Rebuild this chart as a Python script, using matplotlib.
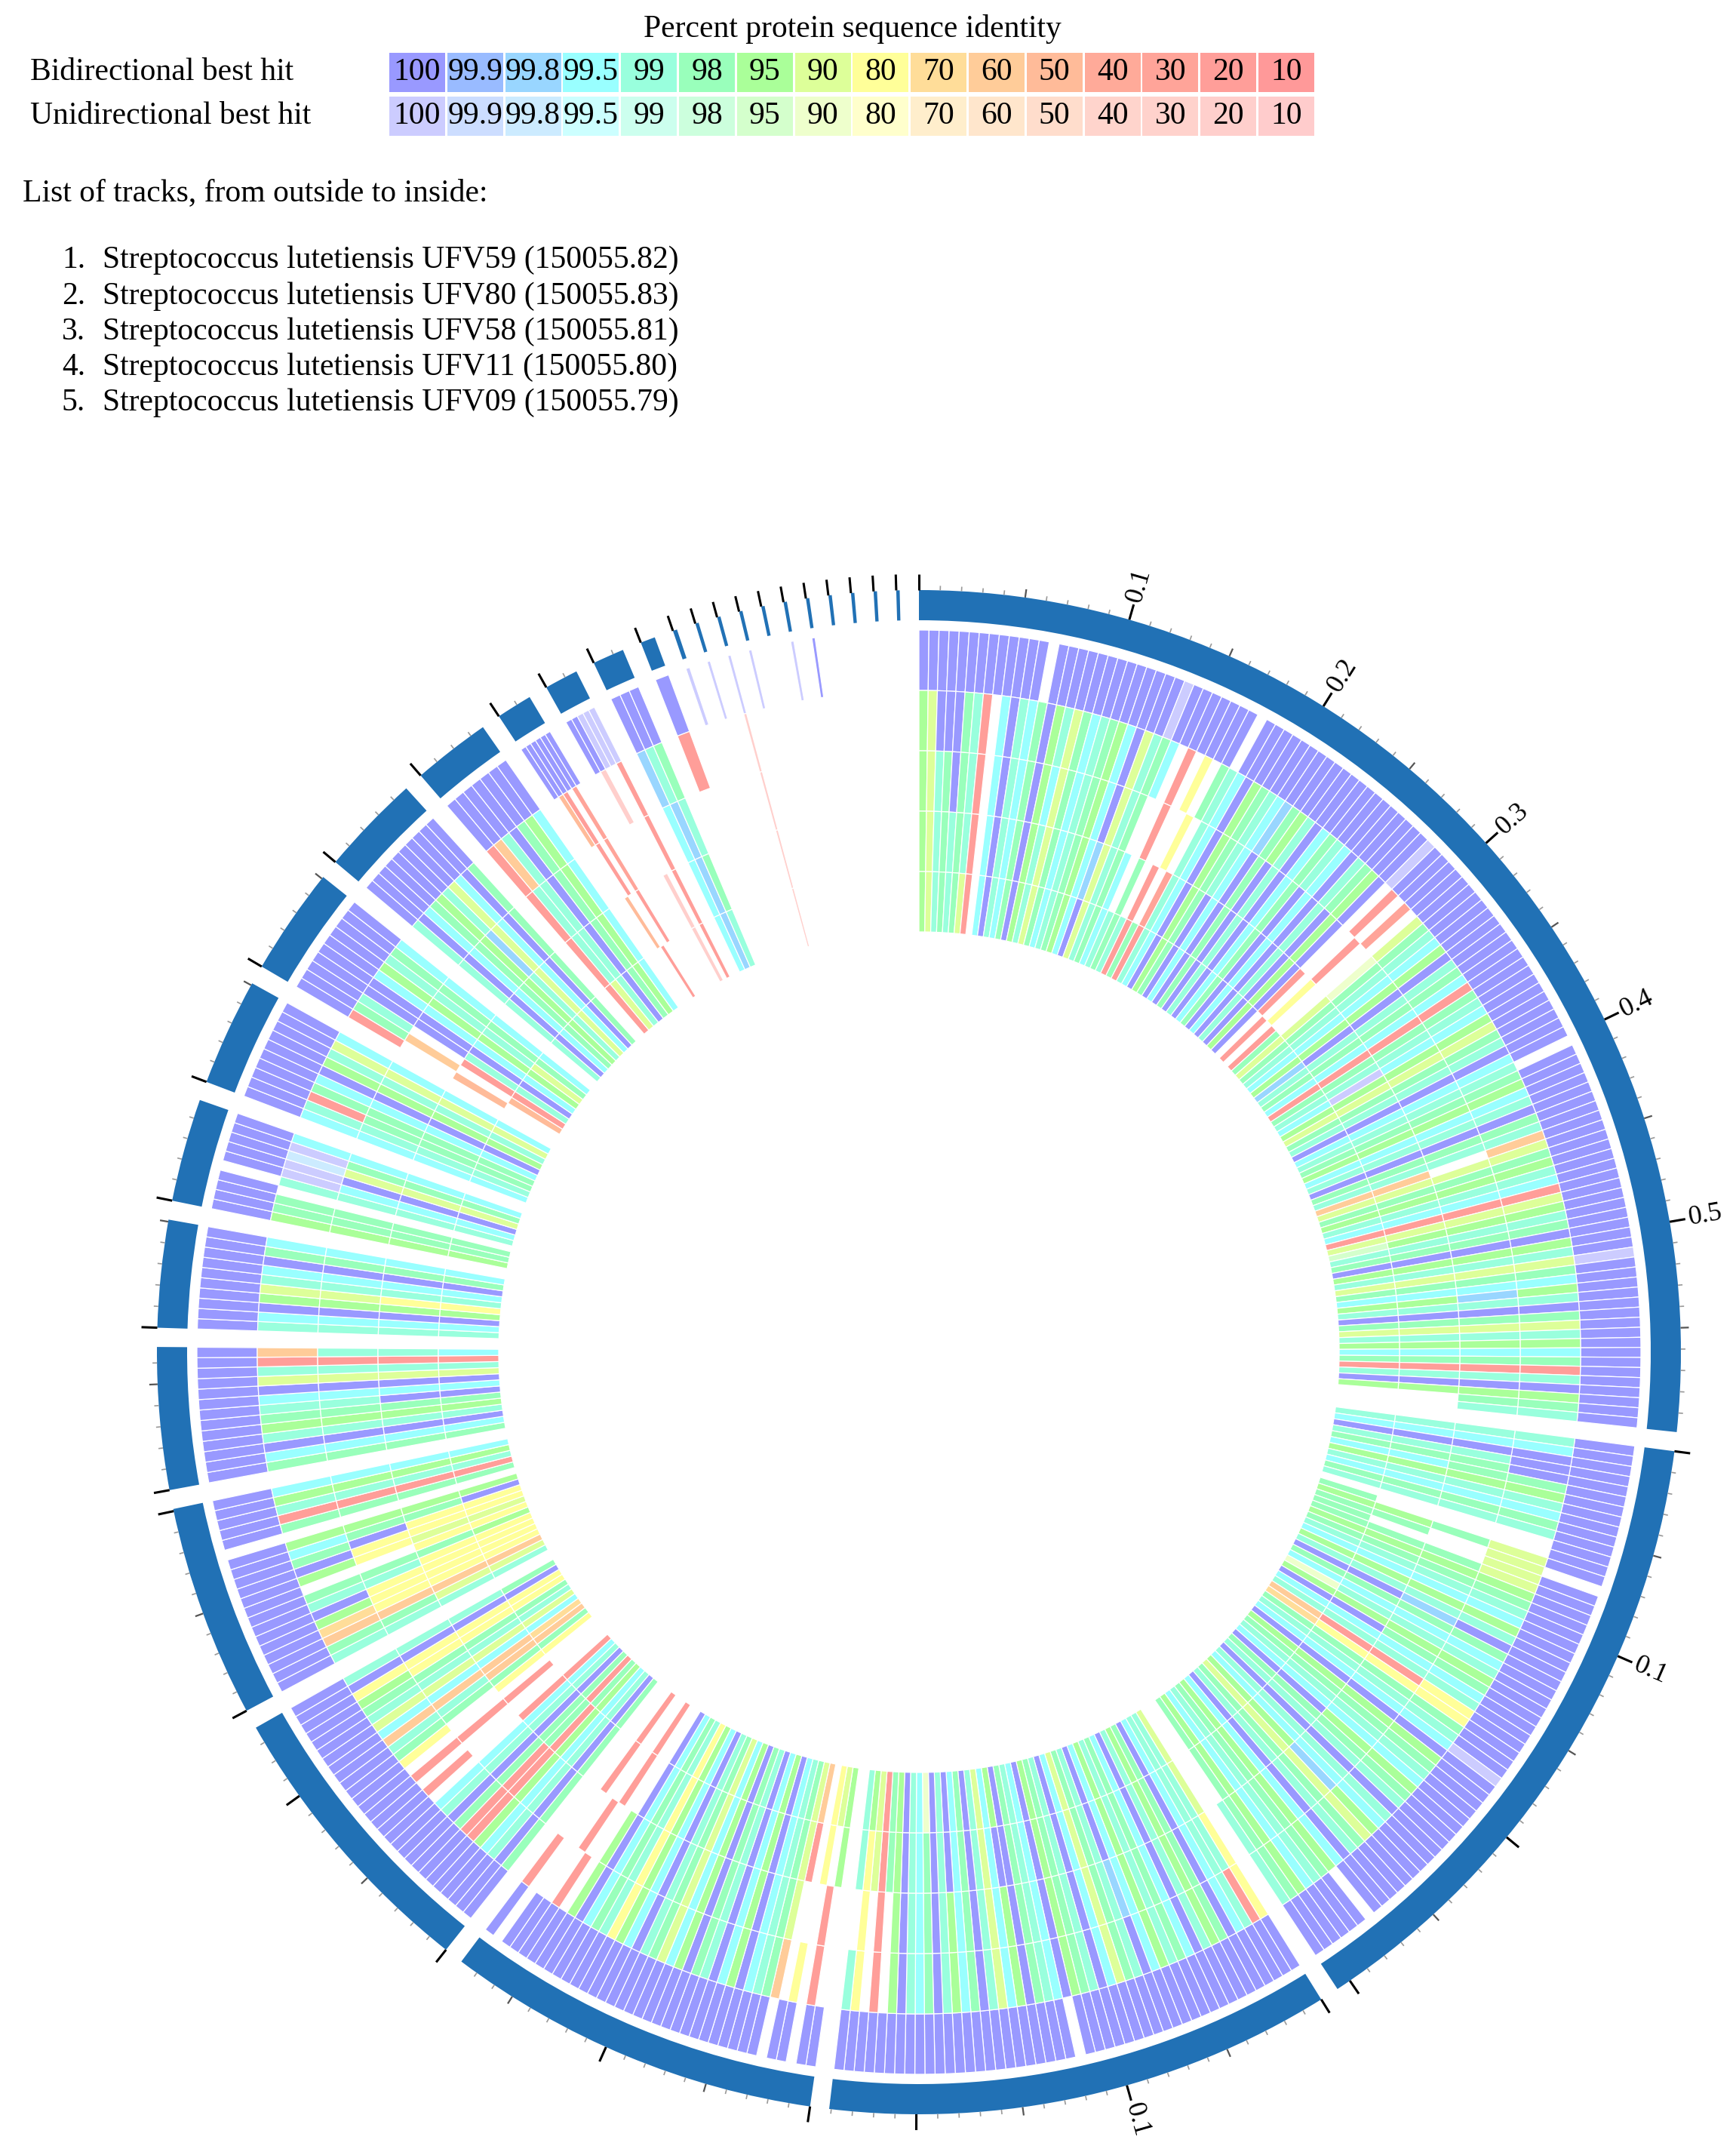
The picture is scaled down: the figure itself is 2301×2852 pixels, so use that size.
import numpy as np
import matplotlib
matplotlib.use('Agg')
import matplotlib.pyplot as plt
from matplotlib.patches import Wedge, Rectangle
from matplotlib.collections import PatchCollection, LineCollection
from matplotlib.colors import to_rgb

plt.rcParams['font.family'] = ['Liberation Serif', 'DejaVu Serif']

# legend: percent identity levels and colours (bidirectional hits)
identity = ['100', '99.9', '99.8', '99.5', '99', '98', '95', '90',
            '80', '70', '60', '50', '40', '30', '20', '10']
bidir_colors = ['#9999ff', '#99bbff', '#99d6ff', '#99ffff', '#99ffdd', '#99ffbb',
                '#aaff99', '#ddff99', '#ffff99', '#ffdd99', '#ffcc99', '#ffbb99',
                '#ffaa99', '#ffa499', '#ff9e99', '#ff9999']
codes = 'ABCDEFGHIJKLMNOP'   # upper = bidirectional, lower = unidirectional, '.' = no hit

track_names = ['Streptococcus lutetiensis UFV59 (150055.82)',
               'Streptococcus lutetiensis UFV80 (150055.83)',
               'Streptococcus lutetiensis UFV58 (150055.81)',
               'Streptococcus lutetiensis UFV11 (150055.80)',
               'Streptococcus lutetiensis UFV09 (150055.79)']

# contig sizes of the reference genome, Mb
contig_mb = [0.599, 0.307, 0.241, 0.179, 0.138, 0.101, 0.0675, 0.051, 0.049, 0.051,
             0.051, 0.048, 0.037, 0.017, 0.016, 0.015, 0.007,
             0.002, 0.0016, 0.0016, 0.0016, 0.0016, 0.0016, 0.0016, 0.0016, 0.0016, 0.0016, 0.0016]
# tick labels that are shown: (contig index, positions in Mb)
tick_labels = [(0, [0.1, 0.2, 0.3, 0.4, 0.5]), (1, [0.1]), (2, [0.1])]

tiny_t1 = ['a', 'a', 'a', 'a', '.', 'a', 'A', '.', '.', '.', '.']
tiny_rest = ['.', '.', 'o', '.', '.', '.', '.', '.', '.', '.', '.']

# per contig identity strings, one char per gene block
track1 = [
    'AAAAAAAAAA' 'AAA.AAAAAA' 'AAAAAAAaAA' 'AAAAA.AAAA' 'AAAAAAAAAA' 'AAAAAAaAAA'
    'AAAAAAAAAA' 'AAAAAAAAAA' '.AAAAAAAAA' 'AAAAAAAAAA' 'AAaAAAAAAA' 'AAAAAAAAAA',
    'AAAAAAAAAA' 'AAAA.AAAAA' 'AAAAAAAAAA' 'AAAAAaAAAA' 'AAAAAAAAAA' 'AAA.AAAAAA',
    'AAAAAAAAAA' 'AAAAAAAAAA' 'AAA.AAAAAA' 'AAAAAAAAAA' 'AAAAAAAA',
    'AA.AA.AAAA' 'AAAAAAAAAA' 'AAAAAAAAAA' 'AAAA.A',
    'AAAAAAAAAA' 'AAAAAAAAAA' 'AAAAAAAA',
    'AAAAAAAAAA' 'AAAA.AAAAA',
    'AAAAAAAAAAAAA',
    'AAAAAAAAAA', 'AAAA.AAAAA', 'AAAAAAAAAA', 'AAAAAAAAAA', 'AAAAAAAAAA',
    'AAAAAAA', 'AAAAAA', 'AAaaa', 'AAA', 'A'] + tiny_t1
track2 = [
    'GHAAAFEO.D' 'AEDFAGEHFD' 'EFGDAHEFD.' 'O.I.FEDAGF' 'EDCFGEADFE' 'DAEFGA.O.N'
    '.HFEDGAEFD' 'OFEDGHFEAD' 'EFGDEAFEKH' 'FGEDOHGEFA' 'GEHFDGEAFH' 'EGDFOEAGFE',
    'EDAAAFGEDF' 'E..HHHHGFE' 'DGEAFDEGFD' 'EIIFEDAGFE' 'DGFEAEDGHF' 'EADGFEDGFE',
    'IOEDAFGEAD' 'FEGDAEFHDA' 'EFGADEFAGD' 'HEAFDGEAFD' 'EAG.O.IE',
    '.O.I.KFEDA' 'GDAEFAGDHF' 'EADGIEFDAG' '.O...O',
    'FAEDGOOFAE' 'D.O.O.IFEK' 'DHEFGIAE',
    'EFKJGAEF.G' 'AFDG.FOEGD',
    'FDAEGFEDAHEOK',
    'EDAGHEDAFD', 'GFF.EaacaD', 'DEOFDAGEHD', 'OFEAADGEFD', 'EADFGEHDAF',
    'OKEAFGD', '.LO.N.', '.o..O', 'CEF', 'O'] + tiny_rest
track3 = [
    'GHEFAFEO.D' 'AEDFAGDHFD' 'EFGDAHEF..' 'O..I.EDAGF' 'EDAFAEADFA' 'DAEAGA..O.'
    '.hFEDGAEFD' 'OFEDGHFEAD' 'EFGDEAFE.H' 'FGEDOHGEFA' 'GEHFDCEAFH' 'EGDFOEAGFE',
    'EDAEFFGEDF' 'E..F..FGFE' 'DGECFDEGFD' 'EOIFEDAGFE' 'DGFEAEDCHF' 'EADGFEDGFE',
    'IEEDAFGEAD' 'FEGDCEFHDA' 'EFGADEFAGD' 'HEAFDGEAFD' 'EAG.O.I.',
    '.O...HFEDA' 'GDAEFAGDHF' 'EADGIEFDAG' '..O...',
    'FAEDGOOFAE' 'D...O..FEK' 'DHEFIIAE',
    'EFKIIIEF.I' 'IAFG.FOEGD',
    'FDAEGFEDAHEOE',
    'EDAGHEDAFD', 'GFF.EDAHFD', 'DEFFDAGEHD', '.K.AADGEFD', 'EADFGCHDAF',
    'OEEAFGD', '..O.N.', '....O', 'DCE', '.'] + tiny_rest
track4 = [
    'GHEFEFEO.D' 'AEDFAGEHFD' 'EFGDCHEFD.' 'F.O.NEDAGF' 'ADAFAEADFA' 'DAEAGAO.I.'
    '.HFEDGAEFD' 'OFEaGHFEAD' 'EFGDEAFEKH' 'FGEDOHGEFA' 'GEHFDGEAFH' 'EGDFOEAG..',
    'EDAEFDGEDF' 'E..GF.FGFE' 'DGEAFDEGAD' 'EOIFEDAGFE' 'DAFEAEDGHF' 'EADGFEDGF.',
    'HEEDAFGEAD' 'FEGDAEFHDA' 'EFGADEFAAD' 'HEAFDAEAFD' 'EAGFOHIE',
    'G.I.OHFEDA' 'GDAEFAGDHF' 'EADGIEFDA.' '.O..O.',
    'FAEDGOFFAE' 'DO..O.IFKK' 'DHEFIIAE',
    'EHKIIIIFIH' 'IIFG.FOEGD',
    'FDAEGFADAHEOE',
    'EDAGIEDAFD', 'GFF.EDAHFD', 'DEFFDAGEHD', 'L.OEADGEFD', 'EADFGEHDAF',
    'OEEAFGD', '.L..O.', '..o.O', 'DCF', '.'] + tiny_rest
track5 = [
    'GHEFEFHO.D' 'AEDFAGEHFD' 'EFGDAHEFDE' 'FEOFOEDAGF' 'ADAFAEADFA' 'DAEAGA.O.O'
    'FHFEDGCEFD' 'OFEDGHFEAD' 'EFGDEAFEKH' 'FGEDOHgEFA' 'GEHFDGEAFH' 'EGDFOEAG..',
    'EDAEFDGEDF' 'E.FGFFFGFE' 'DGEAFDhGAD' 'EKJFEDAGFE' 'DAFEAEDGHF' 'EADGFEDGF.',
    'HEEDAFGEAD' 'FEGDAEFHDA' 'EFGADEFAGD' 'HEAFDAEAhD' 'EAGFOHGE',
    'GHI.KHFEDA' 'GDAEFAGDHF' 'EADGIEFDA.' '.O..O.',
    'FAEDGFOFAE' 'DO....IFKJ' 'DHEFIIAF',
    'EHKIIIIGIH' 'IIAG.FOEGD',
    'FDAEGFADAHEOD',
    'EDAGIEDAFD', 'GFF.EDAHFD', 'DEFFDAGEHD', '.LOEADGHFD', 'EADFGEHDAF',
    'OHEAFGD', '..O...', '..o.O', 'DCE', '.'] + tiny_rest
tracks = [track1, track2, track3, track4, track5]

W, H = 2301, 2852
fig = plt.figure(figsize=(W / 100, H / 100), dpi=100)
ax = fig.add_axes([0, 0, 1, 1])
ax.set_xlim(0, W)
ax.set_ylim(H, 0)
ax.axis('off')


def pale(c):
    rgb = np.array(to_rgb(c))
    return tuple(rgb + (1 - rgb) * 0.5)


color_of = {}
for k, c in zip(codes, bidir_colors):
    color_of[k] = c
    color_of[k.lower()] = pale(c)

############ legend ############
fs = 30
ax.text(1130, 38, 'Percent protein sequence identity', fontsize=fs, ha='center', va='center')
ax.text(40, 96, 'Bidirectional best hit', fontsize=fs, ha='left', va='center')
ax.text(40, 154, 'Unidirectional best hit', fontsize=fs, ha='left', va='center')
for i, (lab, c) in enumerate(zip(identity, bidir_colors)):
    x0 = 516 + i * 76.8
    ax.add_patch(Rectangle((x0, 70), 74, 52, facecolor=c, edgecolor='none'))
    ax.add_patch(Rectangle((x0, 128), 74, 52, facecolor=pale(c), edgecolor='none'))
    ax.text(x0 + 37, 96, lab, fontsize=fs, ha='center', va='center')
    ax.text(x0 + 37, 154, lab, fontsize=fs, ha='center', va='center')

ax.text(30, 256, 'List of tracks, from outside to inside:', fontsize=fs, ha='left', va='center')
for i, name in enumerate(track_names):
    y = 345 + i * 47.3
    ax.text(113, y, f'{i + 1}.', fontsize=fs, ha='right', va='center')
    ax.text(136, y, name, fontsize=fs, ha='left', va='center')

############ circular plot ############
cx, cy = 1218, 1792
gap = 1.45
deg_per_mb = (360 - gap * len(contig_mb)) / sum(contig_mb)
starts = []
a = 0.0
for L in contig_mb:
    starts.append(a)
    a += L * deg_per_mb + gap

ring_out, ring_w = 1010, 40
ring = [Wedge((cx, cy), ring_out, s - 90, s + L * deg_per_mb - 90, width=ring_w)
        for s, L in zip(starts, contig_mb)]
ax.add_collection(PatchCollection(ring, facecolor='#2171b5', edgecolor='none'))

track_out = [957, 877, 797, 717, 637]
track_h = 80
wedges, fcols = [], []
for t, strings in enumerate(tracks):
    for s0, L, s in zip(starts, contig_mb, strings):
        w = L * deg_per_mb / len(s)
        for j, ch in enumerate(s):
            if ch == '.':
                continue
            wedges.append(Wedge((cx, cy), track_out[t], s0 + j * w - 90,
                                s0 + (j + 1) * w - 90, width=track_h))
            fcols.append(color_of[ch])
ax.add_collection(PatchCollection(wedges, facecolor=fcols, edgecolor='white', linewidth=0.9))

# ticks
minor, med, major = [], [], []
for s0, L in zip(starts, contig_mb):
    for m in np.arange(0, L + 1e-9, 0.01):
        th = np.radians(s0 + m * deg_per_mb)
        k = int(round(m * 100))
        if k % 10 == 0:
            ln, bucket = 21, major
        elif k % 5 == 0:
            ln, bucket = 11, med
        else:
            ln, bucket = 6, minor
        r0, r1 = ring_out, ring_out + ln
        bucket.append([(cx + r0 * np.sin(th), cy - r0 * np.cos(th)),
                       (cx + r1 * np.sin(th), cy - r1 * np.cos(th))])
ax.add_collection(LineCollection(minor, colors='#999999', linewidths=1.2))
ax.add_collection(LineCollection(med, colors='#555555', linewidths=1.6))
ax.add_collection(LineCollection(major, colors='black', linewidths=2.2))

for ci, pos in tick_labels:
    for m in pos:
        deg = starts[ci] + m * deg_per_mb
        th = np.radians(deg)
        r = ring_out + 25
        ax.text(cx + r * np.sin(th), cy - r * np.cos(th), f'{m:.1f}', fontsize=26,
                rotation=90 - deg, rotation_mode='anchor', ha='left', va='center')

fig.savefig('out.png', dpi=100, facecolor='white')
